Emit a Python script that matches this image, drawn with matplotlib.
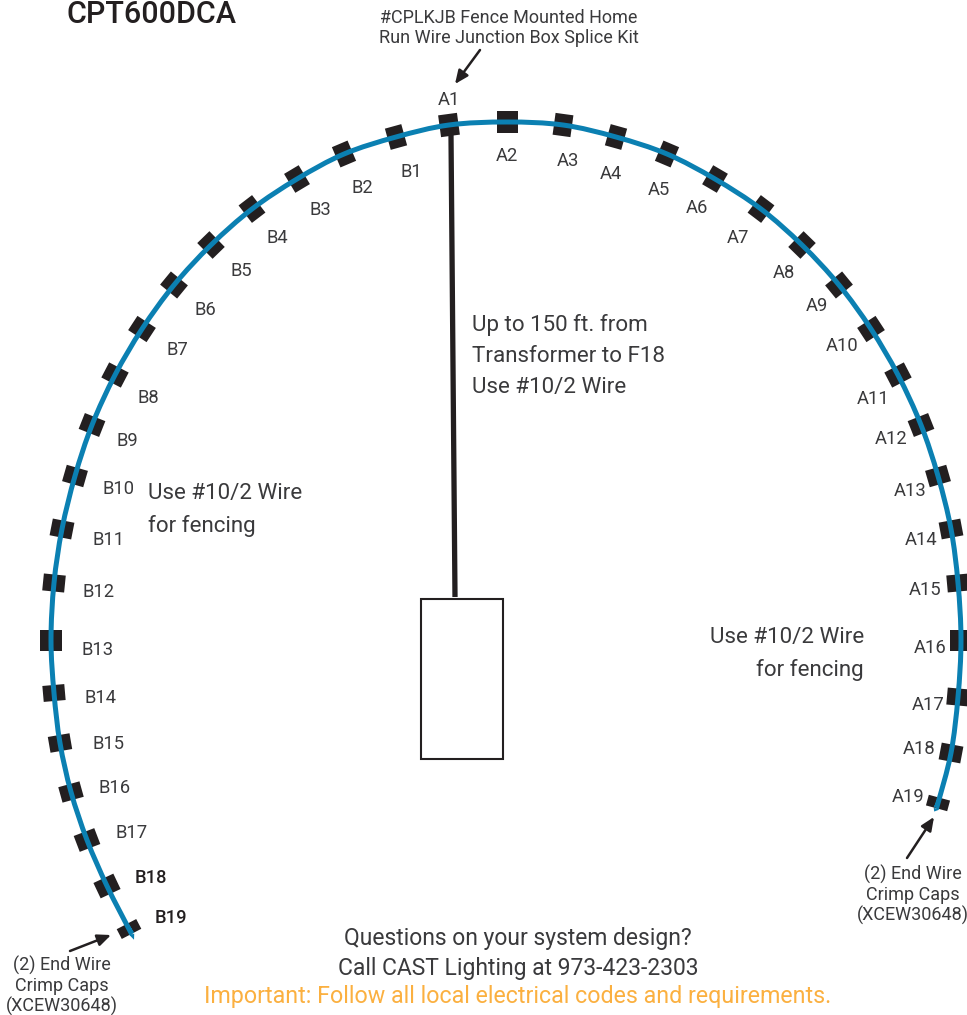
import numpy as np
import matplotlib
matplotlib.use("Agg")
import matplotlib.pyplot as plt
from matplotlib.patches import Rectangle, PathPatch
from matplotlib.path import Path

plt.rcParams['font.family'] = ['Roboto', 'DejaVu Sans']

# junctions, listed along the wire from the B end round to the A end
b_names = [f"B{i}" for i in range(1, 20)]
a_names = [f"A{i}" for i in range(1, 20)]
b_x = [396, 344, 297, 252, 211, 174, 142, 115, 92, 75, 62, 54, 51, 54, 60, 71, 87, 107, 129]
b_y = [137, 154, 179, 209, 245, 285, 329, 375, 425, 476, 529, 583, 640, 693, 743, 792, 840, 886, 929]
a_x = [449, 507, 563, 616, 667, 715, 761, 802, 839, 871, 898, 921, 938, 951, 958, 961, 958, 951, 938]
a_y = [125, 122, 125, 137, 154, 179, 209, 245, 285, 329, 375, 425, 476, 529, 583, 640, 697, 753, 803]
b_label_x = [411, 362, 320, 277, 241, 205, 177, 148, 127, 119, 109, 98, 98, 100, 108, 115, 132, 151, 171]
b_label_y = [172, 188, 210, 238, 271, 310, 350, 398, 441, 489, 540, 592, 650, 698, 744, 788, 833, 878, 918]
a_label_x = [449, 507, 568, 611, 659, 697, 738, 784, 817, 842, 873, 891, 910, 921, 925, 930, 928, 919, 908]
a_label_y = [100, 156, 161, 174, 190, 208, 238, 273, 306, 346, 399, 439, 491, 540, 590, 648, 705, 749, 797]
b_along = [17, 17, 17, 17, 17, 17, 17, 17, 17, 17, 17, 17, 21, 16, 16, 16, 17, 17, 11]
a_along = [19, 21, 18, 17, 17, 17, 17, 17, 17, 17, 17, 17, 17, 17, 17, 21, 17, 17, 11]
wire_ends = [(132, 934), (936, 808)]

title = "CPT600DCA"
center_text = "Up to 150 ft. from\nTransformer to F18\nUse #10/2 Wire"
fence_text = "Use #10/2 Wire\nfor fencing"
splice_text = "#CPLKJB Fence Mounted Home\nRun Wire Junction Box Splice Kit"
caps_text = "(2) End Wire\nCrimp Caps\n(XCEW30648)"
footer = ["Questions on your system design?", "Call CAST Lighting at 973-423-2303"]
warning = "Important: Follow all local electrical codes and requirements."

BLUE = "#0b80b2"
DARK = "#231f20"
TEXT = "#3a3a3c"
ORANGE = "#fbb040"

fig = plt.figure(figsize=(9.67, 10.15), dpi=100)
ax = fig.add_axes([0, 0, 1, 1])
ax.set_xlim(0, 967)
ax.set_ylim(1015, 0)
ax.axis("off")

xs = np.array([wire_ends[0][0]] + b_x[::-1] + a_x + [wire_ends[1][0]], float)
ys = np.array([wire_ends[0][1]] + b_y[::-1] + a_y + [wire_ends[1][1]], float)
pts = np.column_stack([xs, ys])
tang = np.gradient(pts, axis=0)

# junction blocks, perpendicular to the wire
along = b_along[::-1] + a_along
for i, a in enumerate(along):
    t = tang[i + 1] / np.linalg.norm(tang[i + 1])
    ang = np.degrees(np.arctan2(t[1], t[0]))
    perp = 22
    n = np.array([-t[1], t[0]])
    corner = pts[i + 1] - t * a / 2 - n * perp / 2
    ax.add_patch(Rectangle(corner, a, perp, angle=ang, facecolor=DARK, edgecolor="none", zorder=2))

# wire as a smooth curve through the junctions
verts = [tuple(pts[0])]
codes = [Path.MOVETO]
for i in range(len(pts) - 1):
    verts += [tuple(pts[i] + tang[i] / 3), tuple(pts[i + 1] - tang[i + 1] / 3), tuple(pts[i + 1])]
    codes += [Path.CURVE4] * 3
ax.add_patch(PathPatch(Path(verts, codes), facecolor="none", edgecolor=BLUE, lw=3.6, capstyle="butt", zorder=3))

# home run and transformer
ax.plot([451, 455], [135, 597], color=DARK, lw=3.8, solid_capstyle="butt", zorder=1)
ax.add_patch(Rectangle((421, 599), 82, 160, facecolor="white", edgecolor=DARK, lw=1.5))

LABEL = 13.2
for n, x, y in zip(b_names, b_label_x, b_label_y):
    bold = n in ("B18", "B19")
    ax.text(x, y, n, ha="center", va="center", fontsize=LABEL, color=DARK if bold else TEXT,
            fontweight="medium" if bold else "normal")
for n, x, y in zip(a_names, a_label_x, a_label_y):
    ax.text(x, y, n, ha="center", va="center", fontsize=LABEL, color=TEXT)

ax.text(66, 14, title, ha="left", va="center", fontsize=22, color=DARK, fontweight="medium")
ax.text(472, 356, center_text, ha="left", va="center", fontsize=16.1, color=TEXT, linespacing=1.64)
ax.text(148, 510, fence_text, ha="left", va="center", fontsize=16.1, color=TEXT, linespacing=1.64)
ax.text(864, 654, fence_text, ha="right", va="center", fontsize=16.1, color=TEXT, linespacing=1.64)
ax.text(509, 28, splice_text, ha="center", va="center", fontsize=13, color=TEXT, linespacing=1.15)
ax.text(62, 986, caps_text, ha="center", va="center", fontsize=13, color=TEXT, linespacing=1.15)
ax.text(913, 895, caps_text, ha="center", va="center", fontsize=13, color=TEXT, linespacing=1.15)
ax.text(518, 938, footer[0], ha="center", va="center", fontsize=16.5, color=TEXT)
ax.text(518, 968, footer[1], ha="center", va="center", fontsize=16.5, color=TEXT)
ax.text(518, 997, warning, ha="center", va="center", fontsize=16.75, color=ORANGE)

for start, end in [((480, 50), (455, 84)), ((70, 951), (111, 935)), ((907, 858), (934, 817))]:
    ax.annotate("", xy=end, xytext=start,
                arrowprops=dict(arrowstyle="-|>,head_length=0.8,head_width=0.35", color=DARK, lw=1.8,
                                shrinkA=0, shrinkB=0))

fig.savefig("out.png", dpi=100)
